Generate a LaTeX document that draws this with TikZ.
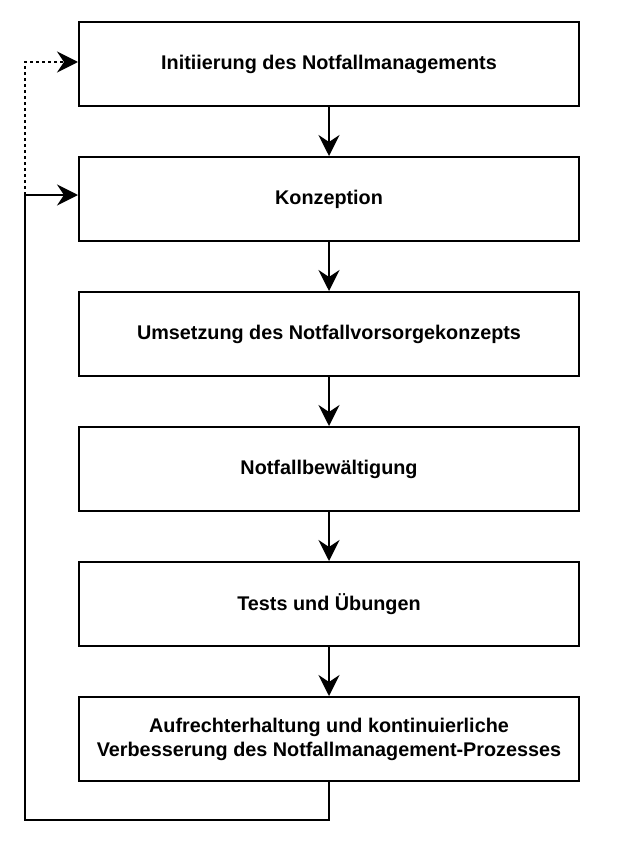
\documentclass[tikz,border=0pt]{standalone}
\usepackage{fontspec}
\setmainfont{Liberation Sans}
\usetikzlibrary{arrows.meta}

\begin{document}
\begin{tikzpicture}[x=1pt,y=1pt,yscale=-1,xscale=1,
    stepbox/.style={draw,line width=2pt,minimum width=500pt,minimum height=84pt,
      inner sep=0pt,align=center,font=\bfseries\fontsize{19.8}{24}\selectfont},
    flow/.style={line width=2pt,-{Stealth[length=21pt,width=21pt,inset=7pt]}}]
    \useasboundingbox (0,0) rectangle (621,843); %set diagram size 621 x 843

    %Shape: Rectangle [phases]
    \node [stepbox] (init) at (329,64) {Initiierung des Notfallmanagements};
    \node [stepbox] (konz) at (329,199) {Konzeption};
    \node [stepbox] (umset) at (329,334) {Umsetzung des Notfallvorsorgekonzepts};
    \node [stepbox] (bewael) at (329,469) {Notfallbewältigung};
    \node [stepbox] (tests) at (329,604) {Tests und Übungen};
    \node [stepbox] (aufr) at (329,739) {Aufrechterhaltung und kontinuierliche\\Verbesserung des Notfallmanagement-Prozesses};

    %Connector: straight arrows
    \draw [flow] (init) -- (konz);
    \draw [flow] (konz) -- (umset);
    \draw [flow] (umset) -- (bewael);
    \draw [flow] (bewael) -- (tests);
    \draw [flow] (tests) -- (aufr);

    %Connector: feedback loop
    \coordinate (loopbot) at (25,820);
    \coordinate (loopjoin) at (25,195);
    \coordinate (looptop) at (25,62);
    \draw [flow] (aufr.south) |- (loopbot) -- (loopjoin) -- (loopjoin -| konz.west);
    \draw [flow,dash pattern=on 3pt off 3pt] (loopjoin) -- (looptop) -- (looptop -| init.west);

\end{tikzpicture}
\end{document}
